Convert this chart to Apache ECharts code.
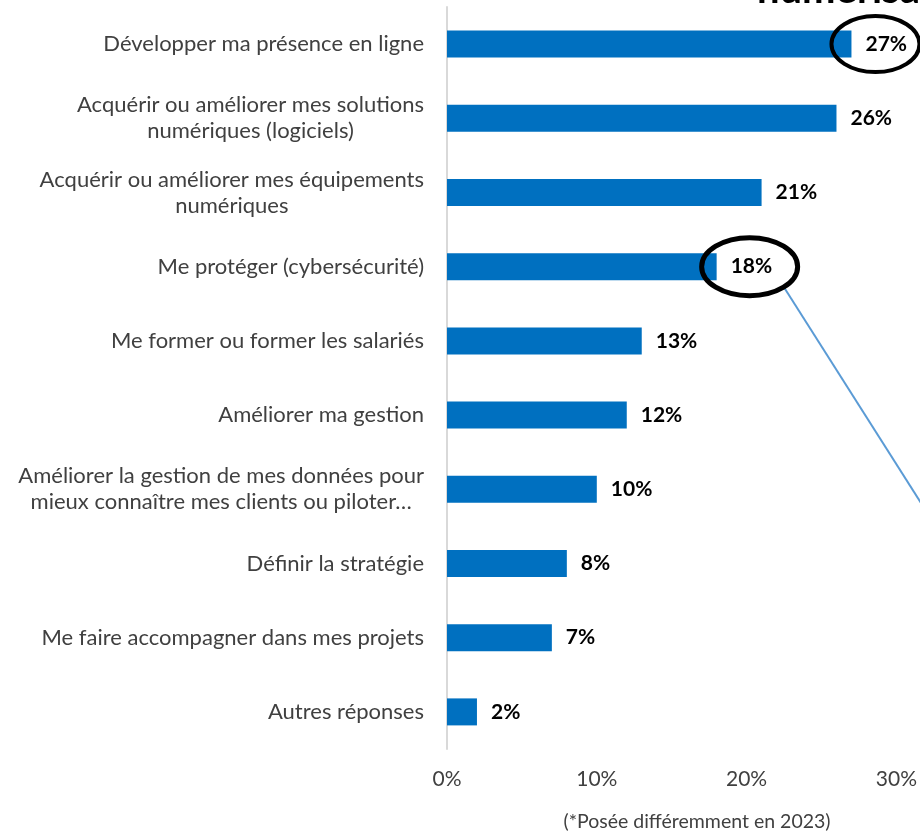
<!DOCTYPE html>
<html lang="fr">
<head>
<meta charset="utf-8">
<title>Priorités numériques</title>
<script src="https://cdn.jsdelivr.net/npm/echarts@6/dist/echarts.min.js"></script>
<style>
  html, body { margin: 0; padding: 0; background: #ffffff; }
  #chart { width: 920px; height: 832px; }
</style>
</head>
<body>
<div id="chart"></div>
<script>
// Categories (top to bottom) and their shares in percent
const categories = [
  'Développer ma présence en ligne',
  'Acquérir ou améliorer mes solutions\nnumériques (logiciels)',
  'Acquérir ou améliorer mes équipements\nnumériques',
  'Me protéger (cybersécurité)',
  'Me former ou former les salariés',
  'Améliorer ma gestion',
  'Améliorer la gestion de mes données pour\nmieux connaître mes clients ou piloter…',
  'Définir la stratégie',
  'Me faire accompagner dans mes projets',
  'Autres réponses'
];
const shares = [27, 26, 21, 18, 13, 12, 10, 8, 7, 2];

// Horizontal axis ticks
const axisTicks = [0, 10, 20, 30];

// Labels highlighted with a circle
const highlighted = ['Développer ma présence en ligne', 'Me protéger (cybersécurité)'];

const titleText = 'numérisation';
const footnote = '(*Posée différemment en 2023)';

const FONT = 'Lato, "Open Sans", sans-serif';

const chart = echarts.init(document.getElementById('chart'), null, { renderer: 'canvas' });

chart.setOption({
  animation: false,
  backgroundColor: '#ffffff',
  textStyle: { fontFamily: FONT },
  grid: { left: 447, top: 7, width: 453, height: 742, containLabel: false },
  xAxis: {
    type: 'value',
    min: axisTicks[0],
    max: axisTicks[axisTicks.length - 1],
    interval: axisTicks[1] - axisTicks[0],
    axisLine: { show: false },
    axisTick: { show: false },
    splitLine: { show: false },
    axisLabel: {
      margin: 20,
      fontSize: 21,
      color: '#404040',
      fontFamily: FONT,
      formatter: '{value}%'
    }
  },
  yAxis: {
    type: 'category',
    inverse: true,
    data: categories,
    axisLine: { show: true, lineStyle: { color: '#d9d9d9', width: 2 } },
    axisTick: { show: false },
    axisLabel: {
      margin: 23,
      fontSize: 22,
      color: '#404040',
      fontFamily: FONT,
      lineHeight: 26,
      formatter: v => v.split('\n').map(l => '{c|' + l + '}').join('\n'),
      rich: { c: { align: 'center', fontSize: 22, lineHeight: 26, color: '#404040', fontFamily: FONT } }
    }
  },
  series: [{
    type: 'bar',
    data: shares,
    barWidth: 27,
    itemStyle: { color: '#0070c0' },
    label: {
      show: true,
      position: 'right',
      distance: 14,
      formatter: '{c}%',
      fontSize: 21,
      fontWeight: 'bold',
      color: '#000000',
      fontFamily: FONT
    }
  }]
});

// Circles around the highlighted value labels, a connector line, title fragment and footnote
function drawAnnotations() {
  const graphics = [];
  const circles = [];
  const offsets = [24, 33];
  highlighted.forEach((name, k) => {
    const i = categories.indexOf(name);
    const p = chart.convertToPixel({ gridIndex: 0 }, [shares[i], i]);
    const c = { cx: p[0] + offsets[k], cy: p[1], rx: k === 0 ? 44 : 48, ry: k === 0 ? 28 : 29 };
    circles.push(c);
    graphics.push({
      type: 'ellipse',
      shape: c,
      style: { fill: 'none', stroke: '#000000', lineWidth: k === 0 ? 4 : 5 },
      z: 100
    });
  });

  // Connector leaving the second circle towards the lower right
  const c2 = circles[1];
  const ang = Math.atan2(0.72, 0.73);
  const x0 = c2.cx + c2.rx * Math.cos(ang);
  const y0 = c2.cy + c2.ry * Math.sin(ang);
  graphics.push({
    type: 'line',
    shape: { x1: x0, y1: y0, x2: x0 + 141 * 1.3, y2: y0 + 222 * 1.3 },
    style: { stroke: '#5b9bd5', lineWidth: 2 },
    z: 99
  });

  graphics.push({
    type: 'text',
    x: 757,
    y: 10,
    style: {
      text: titleText,
      fontSize: 40,
      fontWeight: 'bold',
      fontFamily: FONT,
      fill: '#000000',
      align: 'left',
      verticalAlign: 'bottom'
    },
    z: 101
  });

  graphics.push({
    type: 'text',
    x: 697,
    y: 822,
    style: {
      text: footnote,
      fontSize: 19.5,
      fontFamily: FONT,
      fill: '#404040',
      align: 'center',
      verticalAlign: 'middle'
    }
  });

  chart.setOption({ graphic: graphics });
}
drawAnnotations();
</script>
</body>
</html>
